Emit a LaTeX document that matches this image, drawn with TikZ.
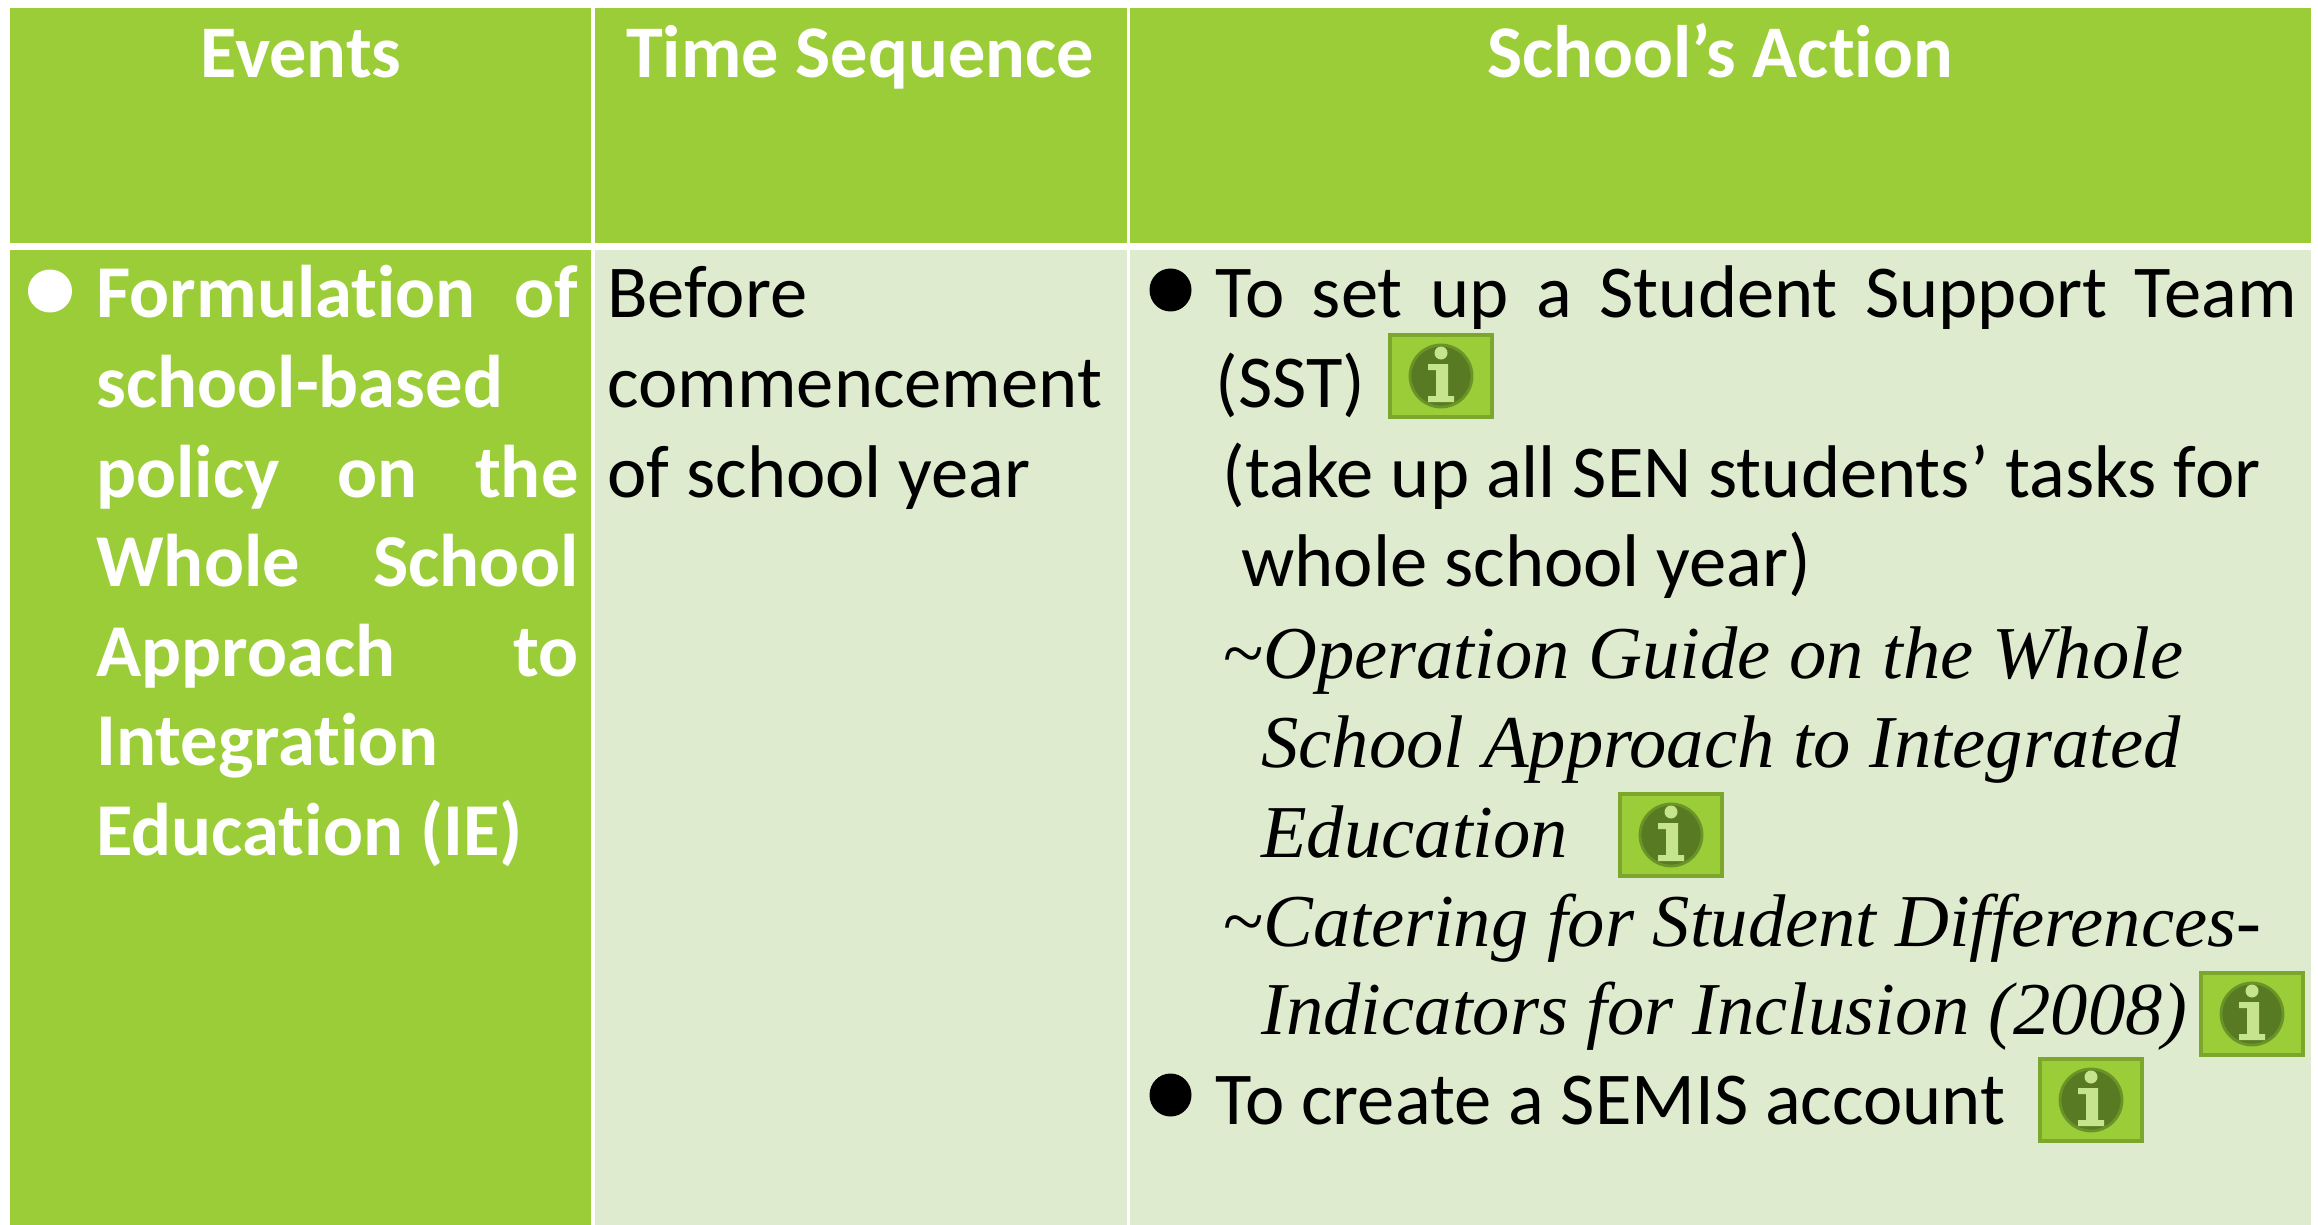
\documentclass[tikz,border=0pt]{standalone}
\usepackage{fontspec}
\setmainfont{Carlito}[RawFeature={-liga;-clig}]
\newfontfamily\timesit{Liberation Serif}[ItalicFont=* Italic]
\definecolor{hdr}{HTML}{9ACD38}
\definecolor{lite}{HTML}{DEEBCE}
\definecolor{icoedge}{HTML}{7BA82C}
\definecolor{icoring}{HTML}{6B9428}
\definecolor{icodark}{HTML}{587A22}
\definecolor{icolite}{HTML}{C6E48C}
\newcommand{\bodysize}{\fontsize{37.3}{37.3}\selectfont}
\newcommand{\headsize}{\fontsize{37.15}{37.15}\selectfont}
\newcommand{\italsize}{\fontsize{37.3}{37.3}\selectfont}
\newcommand{\jline}[2]{\makebox[#1][s]{#2}}
\tikzset{
  x=0.5pt,y=-0.5pt,
  headcell/.style={fill=hdr,draw=none},
  bodycell/.style={fill=lite,draw=none},
  headtext/.style={anchor=base,inner sep=0pt,text=white,font=\headsize\bfseries},
  boldline/.style={anchor=base west,inner sep=0pt,text=white,font=\bodysize\bfseries},
  plainline/.style={anchor=base west,inner sep=0pt,text=black,font=\bodysize},
  italline/.style={anchor=base west,inner sep=0pt,text=black,font=\italsize\timesit\itshape},
  infoicon/.pic={
    \fill[hdr,draw=icoedge,line width=1.6pt] (-51,-41) rectangle (51,41);
    \fill[icodark,draw=icoring,line width=1.4pt] (0,0) circle (31);
    \fill[icolite] (0,-23) circle (6.5);
    \fill[icolite] (-13,-12) -- (7,-12) -- (7,20) -- (13,20) -- (13,26) -- (-13,26) -- (-13,20) -- (-5,20) -- (-5,-6) -- (-13,-6) -- cycle;
  }
}
\begin{document}
\begin{tikzpicture}
\useasboundingbox (0,0) rectangle (2318,1225);
\fill[white] (0,0) rectangle (2318,1225);
% cells
\path[headcell] (10,8) rectangle (591,243);
\path[headcell] (595,8) rectangle (1127,243);
\path[headcell] (1130,8) rectangle (2311,243);
\path[headcell] (10,250) rectangle (591,1225);
\path[bodycell] (595,250) rectangle (1127,1225);
\path[bodycell] (1130,250) rectangle (2311,1225);
% headers
\node[headtext] (h1) at (301,78) {Events};
\node[headtext] (h2) at (860,78) {Time Sequence};
\node[headtext] (h3) at (1720,78) {School’s Action};
% column 1
\fill[white] (50,291) ellipse (22 and 21.5);
\node[boldline] (e1) at (96,317) {\jline{241pt}{Formulation of}};
\node[boldline] (e2) at (96,407.5) {school-based};
\node[boldline] (e3) at (96,497) {\jline{241pt}{policy on the}};
\node[boldline] (e4) at (96,586.1) {\jline{241pt}{Whole School}};
\node[boldline] (e5) at (96,676.3) {\jline{241pt}{Approach to}};
\node[boldline] (e6) at (96,765.5) {Integration};
\node[boldline] (e7) at (96,855.2) {Education (IE)};
% column 2
\node[plainline] (t1) at (607,317) {Before};
\node[plainline] (t2) at (607,407.5) {commencement};
\node[plainline] (t3) at (607,497) {of school year};
% column 3
\fill[black] (1170.5,290) ellipse (21 and 21.5);
\node[plainline] (a1) at (1215,317) {\jline{541pt}{To set up a Student Support Team}};
\node[plainline] (a2) at (1215.5,407.5) {(SST)};
\node[plainline] (a3) at (1222.5,497) {(take up all SEN students’ tasks for};
\node[plainline] (a4) at (1241,586.1) {whole school year)};
\node[italline] (a5) at (1222.5,678.3) {\textasciitilde Operation Guide on the Whole};
\node[italline] (a6) at (1261,767) {School Approach to Integrated};
\node[italline] (a7) at (1261,857) {Education};
\node[italline] (a8) at (1222.5,946.5) {\textasciitilde Catering for Student Differences-};
\node[italline] (a9) at (1261,1034.6) {Indicators for Inclusion (2008)};
\fill[black] (1170.5,1095) ellipse (21 and 21.5);
\node[plainline] (a10) at (1215,1124.3) {To create a SEMIS account};
% icons
\pic at (1441,376) {infoicon};
\pic at (1671,835) {infoicon};
\pic at (2252,1014) {infoicon};
\pic at (2091,1100) {infoicon};
\end{tikzpicture}
\end{document}
